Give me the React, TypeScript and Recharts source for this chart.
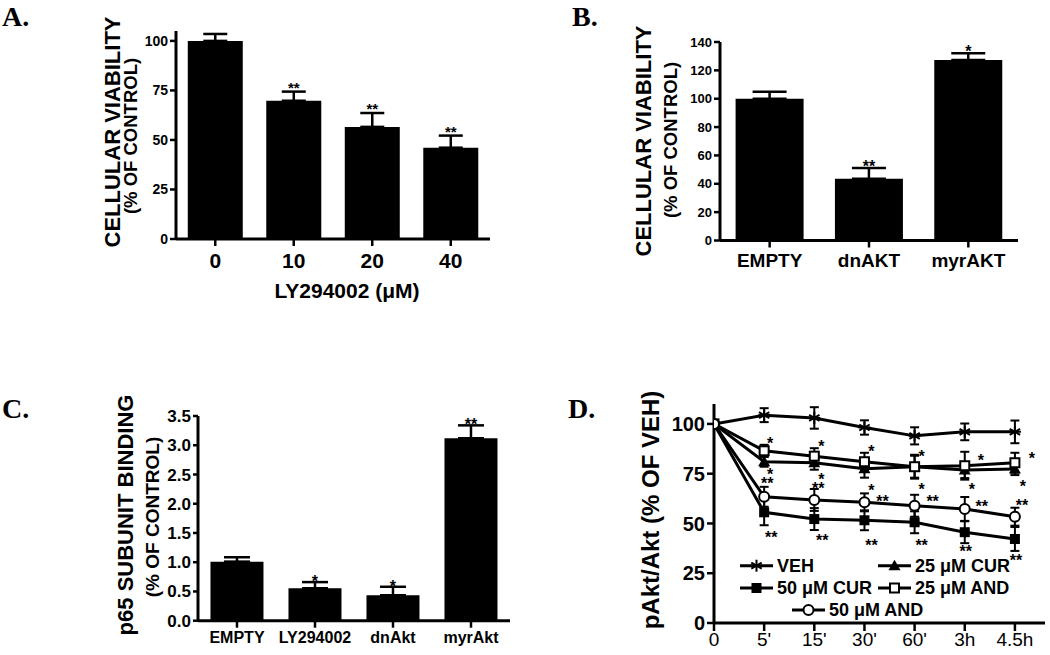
import React from 'react';
import { Bar, BarChart, ErrorBar, LabelList, Line, LineChart, XAxis, YAxis } from 'recharts';

const FONT = '"Liberation Sans", Arial, Helvetica, sans-serif';
const SERIF = '"Liberation Serif", "Times New Roman", serif';

// A. viability vs LY294002 dose
const lyDoses = ['0', '10', '20', '40'];
const lyViability = [100, 69.8, 56.6, 46.1];
const lyViabilitySem = [3.5, 4.6, 7.0, 6.1];
const lySig = ['', '**', '**', '**'];

// B. viability per AKT construct
const aktConstructs = ['EMPTY', 'dnAKT', 'myrAKT'];
const aktViability = [100, 43.6, 127.3];
const aktViabilitySem = [4.9, 7.5, 4.7];
const aktSig = ['', '**', '*'];

// C. p65 subunit binding
const p65Groups = ['EMPTY', 'LY294002', 'dnAkt', 'myrAkt'];
const p65Binding = [1.01, 0.555, 0.435, 3.12];
const p65Sem = [0.075, 0.105, 0.145, 0.22];
const p65Sig = ['', '*', '*', '**'];

// D. pAkt/Akt time course
const timeLabels = ['0', "5'", "15'", "30'", "60'", '3h', '4.5h'];
const vehMean = [100, 104.4, 103, 98.2, 94, 96, 96];
const vehSem = [0, 3.5, 5.4, 3.6, 4.3, 4.2, 5.7];
const cur25Mean = [100, 81, 80.5, 77.5, 78.5, 76.8, 77.3];
const cur25Sem = [0, 2.5, 3.5, 4.5, 5.5, 4, 3];
const cur25Sig = ['', '*', '*', '*', '*', '*', '*'];
const cur50Mean = [100, 55.6, 52.2, 51.6, 50.6, 45.6, 42.2];
const cur50Sem = [0, 6.5, 5.5, 5, 5.5, 5.5, 6];
const cur50Sig = ['', '**', '**', '**', '**', '**', '**'];
const and25Mean = [100, 86.5, 83.8, 81, 78.5, 79, 80.5];
const and25Sem = [0, 3, 4, 4.5, 6, 7, 5];
const and25Sig = ['', '*', '*', '*', '*', '*', '*'];
const and50Mean = [100, 63.4, 61.8, 60.6, 58.9, 57.3, 53.4];
const and50Sem = [0, 5, 5.5, 4.5, 5.5, 6, 4.5];
const and50Sig = ['', '**', '**', '**', '**', '**', '**'];

const AXIS = { stroke: '#000', strokeWidth: 3 };
const TICK = { stroke: '#000', strokeWidth: 2.5 };

type Margin = { top: number; right: number; bottom: number; left: number };

interface BarPanelProps {
  left: number;
  top: number;
  width: number;
  height: number;
  margin: Margin;
  categories: string[];
  means: number[];
  sems: number[];
  sig: string[];
  domain: [number, number];
  ticks: number[];
  tickFmt?: (v: number) => string;
  yFont: number;
  xFont: number;
  ySize: number;
  xMargin: number;
  gap: string;
  cap: number;
  starFont: number;
  starLift: number;
}

function BarPanel(p: BarPanelProps) {
  const rows = p.categories.map((name, i) => ({
    name,
    mean: p.means[i],
    up: p.sems[i],
    err: [0, p.sems[i]],
    sig: p.sig[i],
  }));

  const renderStar = (lp: any) => {
    const vb = lp.viewBox || {};
    const x = lp.x ?? vb.x;
    const y = lp.y ?? vb.y;
    const w = lp.width ?? vb.width ?? 0;
    if (!lp.value) return null;
    return (
      <text x={x + w / 2} y={y - p.starLift} textAnchor="middle" fontSize={p.starFont} fontWeight={700} fill="#000">
        {lp.value}
      </text>
    );
  };

  return (
    <div style={{ position: 'absolute', left: p.left, top: p.top }}>
      <BarChart width={p.width} height={p.height} data={rows} margin={p.margin} barCategoryGap={p.gap}>
        <XAxis
          dataKey="name"
          interval={0}
          height={30}
          axisLine={AXIS}
          tickLine={TICK}
          tickSize={7}
          tickMargin={p.xMargin}
          tick={{ fill: '#000', fontSize: p.xFont, fontWeight: 700 }}
        />
        <YAxis
          width={60}
          domain={p.domain}
          ticks={p.ticks}
          interval={0}
          tickFormatter={p.tickFmt}
          axisLine={AXIS}
          tickLine={TICK}
          tickSize={p.ySize}
          tickMargin={2}
          tick={{ fill: '#000', fontSize: p.yFont, fontWeight: 700 }}
        />
        <Bar dataKey="mean" stackId="s" fill="#000" isAnimationActive={false}>
          <ErrorBar dataKey="err" width={p.cap} strokeWidth={2.5} stroke="#000" direction="y" />
        </Bar>
        <Bar dataKey="up" stackId="s" fill="transparent" isAnimationActive={false}>
          <LabelList dataKey="sig" content={renderStar} />
        </Bar>
      </BarChart>
    </div>
  );
}

type Shape = 'star' | 'tri' | 'sq' | 'osq' | 'circ';

function Marker({ shape, cx, cy }: { shape: Shape; cx: number; cy: number }) {
  if (shape === 'star') {
    return (
      <g stroke="#000" strokeWidth={2}>
        <line x1={cx} y1={cy - 6} x2={cx} y2={cy + 6} />
        <line x1={cx - 5.2} y1={cy - 3} x2={cx + 5.2} y2={cy + 3} />
        <line x1={cx - 5.2} y1={cy + 3} x2={cx + 5.2} y2={cy - 3} />
        <line x1={cx - 6} y1={cy} x2={cx + 6} y2={cy} />
      </g>
    );
  }
  if (shape === 'tri') {
    return <polygon points={`${cx},${cy - 6} ${cx - 6},${cy + 4.5} ${cx + 6},${cy + 4.5}`} fill="#000" />;
  }
  if (shape === 'sq') {
    return <rect x={cx - 5} y={cy - 5} width={10} height={10} fill="#000" />;
  }
  if (shape === 'osq') {
    return <rect x={cx - 4.5} y={cy - 4.5} width={9} height={9} fill="#fff" stroke="#000" strokeWidth={2} />;
  }
  return <circle cx={cx} cy={cy} r={5} fill="#fff" stroke="#000" strokeWidth={2} />;
}

// offsets of the significance marks from each point (asterisk centre)
const and25StarAt = [[0, 0], [6, -11], [7, -13], [7, -14], [7, -14], [16, -9], [17, -8]];
const cur25StarAt = [[0, 0], [6, 9], [7, 13], [7, 18], [7, 19], [7, 16], [8, 14]];
const and50StarAt = [[0, 0], [3, -17], [4, -15], [18, -4], [18, -8], [17, -6], [7, -15]];
const cur50StarAt = [[0, 0], [7, 22], [8, 18], [7, 22], [7, 20], [1, 16], [1, 18]];

const series = [
  { key: 'veh', name: 'VEH', mean: vehMean, sem: vehSem, sig: null, at: null, shape: 'star' as Shape },
  { key: 'cur25', name: '25 μM CUR', mean: cur25Mean, sem: cur25Sem, sig: cur25Sig, at: cur25StarAt, shape: 'tri' as Shape },
  { key: 'cur50', name: '50 μM CUR', mean: cur50Mean, sem: cur50Sem, sig: cur50Sig, at: cur50StarAt, shape: 'sq' as Shape },
  { key: 'and25', name: '25 μM AND', mean: and25Mean, sem: and25Sem, sig: and25Sig, at: and25StarAt, shape: 'osq' as Shape },
  { key: 'and50', name: '50 μM AND', mean: and50Mean, sem: and50Sem, sig: and50Sig, at: and50StarAt, shape: 'circ' as Shape },
];

function TimeCourse() {
  const rows = timeLabels.map((label, i) => {
    const r: Record<string, any> = { t: i, label };
    series.forEach((s) => {
      r[s.key] = s.mean[i];
      r[`${s.key}Err`] = s.sem[i];
      if (s.sig) r[`${s.key}Sig`] = s.sig[i];
    });
    return r;
  });

  return (
    <div style={{ position: 'absolute', left: 560, top: 380 }}>
      <LineChart width={490} height={275} data={rows} margin={{ top: 24, right: 5, bottom: 2, left: 94 }}>
        <XAxis
          type="number"
          dataKey="t"
          domain={[0, 6.6]}
          allowDataOverflow
          ticks={timeLabels.map((_, i) => i)}
          interval={0}
          tickFormatter={(v: number) => timeLabels[v]}
          height={30}
          axisLine={AXIS}
          tickLine={TICK}
          tickSize={8}
          tickMargin={2}
          tick={{ fill: '#000', fontSize: 19 }}
        />
        <YAxis
          width={60}
          domain={[0, 110]}
          ticks={[0, 25, 50, 75, 100]}
          interval={0}
          axisLine={AXIS}
          tickLine={TICK}
          tickSize={7}
          tickMargin={2}
          tick={{ fill: '#000', fontSize: 20, fontWeight: 700 }}
        />
        {series.map((s) => (
          <Line
            key={s.key}
            dataKey={s.key}
            stroke="#000"
            strokeWidth={3}
            isAnimationActive={false}
            activeDot={false}
            dot={(dp: any) => <Marker key={`${s.key}-${dp.index}`} shape={s.shape} cx={dp.cx} cy={dp.cy} />}
          >
            <ErrorBar dataKey={`${s.key}Err`} width={4.5} strokeWidth={2} stroke="#000" direction="y" />
            {s.sig && s.at ? (
              <LabelList
                dataKey={`${s.key}Sig`}
                content={(lp: any) => {
                  const vb = lp.viewBox || {};
                  const x = lp.x ?? vb.x;
                  const y = lp.y ?? vb.y;
                  if (!lp.value) return null;
                  const [dx, dy] = s.at![lp.index] || [0, 0];
                  return (
                    <text x={x + dx} y={y + dy + 9} textAnchor="middle" fontSize={16} fontWeight={700} fill="#000">
                      {lp.value}
                    </text>
                  );
                }}
              />
            ) : null}
          </Line>
        ))}
      </LineChart>
    </div>
  );
}

function RotTitle({ x, y, size, children }: { x: number; y: number; size: number; children: React.ReactNode }) {
  return (
    <text
      transform={`translate(${x},${y}) rotate(-90)`}
      textAnchor="middle"
      dominantBaseline="central"
      fontSize={size}
      fontWeight={700}
      fill="#000"
    >
      {children}
    </text>
  );
}

const legendItems = [
  { s: 0, lx: 740, y: 565.7 },
  { s: 1, lx: 878, y: 565.7 },
  { s: 2, lx: 740, y: 588 },
  { s: 3, lx: 878, y: 588 },
  { s: 4, lx: 792, y: 610 },
];

function Overlay() {
  return (
    <svg width={1050} height={655} style={{ position: 'absolute', left: 0, top: 0, pointerEvents: 'none' }}>
      <g fontFamily={SERIF} fontWeight={700} fontSize={28} fill="#000">
        <text x={2} y={26}>A.</text>
        <text x={572} y={26}>B.</text>
        <text x={2} y={418}>C.</text>
        <text x={568} y={418}>D.</text>
      </g>
      <RotTitle x={112} y={132} size={22}>CELLULAR VIABILITY</RotTitle>
      <RotTitle x={130} y={136} size={18.5}>(% OF CONTROL)</RotTitle>
      <text x={347} y={298} textAnchor="middle" fontSize={21} fontWeight={700} fill="#000">LY294002 (μM)</text>

      <RotTitle x={643} y={141} size={22}>CELLULAR VIABILITY</RotTitle>
      <RotTitle x={670.5} y={140} size={18.5}>(% OF CONTROL)</RotTitle>

      <RotTitle x={125} y={515} size={22}>p65 SUBUNIT BINDING</RotTitle>
      <RotTitle x={152} y={517} size={19}>(% OF CONTROL)</RotTitle>

      <RotTitle x={650} y={510} size={24}>pAkt/Akt (% OF VEH)</RotTitle>

      {legendItems.map((it) => {
        const s = series[it.s];
        return (
          <g key={s.key}>
            <line x1={it.lx} y1={it.y} x2={it.lx + 33} y2={it.y} stroke="#000" strokeWidth={3} />
            <Marker shape={s.shape} cx={it.lx + 16.5} cy={it.y} />
            <text x={it.lx + 37} y={it.y} dominantBaseline="central" fontSize={18} fontWeight={700} fill="#000">
              {s.name}
            </text>
          </g>
        );
      })}
    </svg>
  );
}

export default function App() {
  return (
    <div style={{ position: 'absolute', left: 0, top: 0, width: 1050, height: 655, background: '#fff', fontFamily: FONT, overflow: 'hidden' }}>
      <BarPanel
        left={0}
        top={0}
        width={520}
        height={320}
        margin={{ top: 31, right: 30, bottom: 51, left: 116 }}
        categories={lyDoses}
        means={lyViability}
        sems={lyViabilitySem}
        sig={lySig}
        domain={[0, 105]}
        ticks={[0, 25, 50, 75, 100]}
        yFont={14}
        xFont={21}
        ySize={6}
        xMargin={7}
        gap="15%"
        cap={12}
        starFont={15}
        starLift={-1}
      />
      <BarPanel
        left={560}
        top={0}
        width={490}
        height={300}
        margin={{ top: 42, right: 32, bottom: 29.5, left: 100 }}
        categories={aktConstructs}
        means={aktViability}
        sems={aktViabilitySem}
        sig={aktSig}
        domain={[0, 140]}
        ticks={[0, 20, 40, 60, 80, 100, 120, 140]}
        yFont={13}
        xFont={19}
        ySize={6}
        xMargin={6}
        gap="15.7%"
        cap={17}
        starFont={16}
        starLift={-4}
      />
      <BarPanel
        left={0}
        top={380}
        width={540}
        height={275}
        margin={{ top: 36, right: 30, bottom: 4.3, left: 138 }}
        categories={p65Groups}
        means={p65Binding}
        sems={p65Sem}
        sig={p65Sig}
        domain={[0, 3.5]}
        ticks={[0, 0.5, 1, 1.5, 2, 2.5, 3, 3.5]}
        tickFmt={(v: number) => v.toFixed(1)}
        yFont={17}
        xFont={16}
        ySize={5}
        xMargin={4}
        gap="16%"
        cap={13}
        starFont={16}
        starLift={-5}
      />
      <TimeCourse />
      <Overlay />
    </div>
  );
}
